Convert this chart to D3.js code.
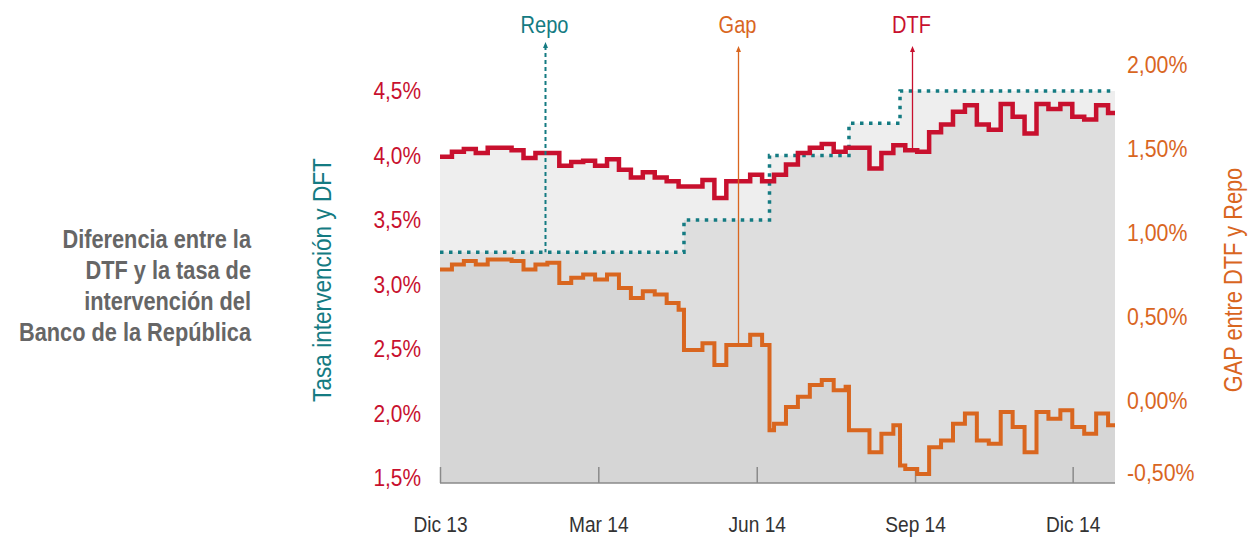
<!DOCTYPE html>
<html>
<head>
<meta charset="utf-8">
<script src="https://cdn.jsdelivr.net/npm/d3@7"></script>
<style>
  body { margin: 0; background: #fff; }
  svg text { font-family: 'Liberation Sans', Arial, sans-serif; }
</style>
</head>
<body>
<svg id="chart" width="1251" height="538"></svg>
<script>
// ---------------- DATA ----------------
// weekly DTF (left axis, %), week 0 = start of Dec 2013
const dtf = [3.99, 4.03, 4.05, 4.02, 4.06, 4.06, 4.04, 3.98, 4.02, 4.02,
             3.92, 3.95, 3.96, 3.92, 3.97, 3.89, 3.83, 3.87, 3.83, 3.80,
             3.76, 3.76, 3.81, 3.67, 3.80, 3.80, 3.85, 3.80, 3.85, 3.93,
             4.02, 4.06, 4.09, 4.03, 4.06, 4.06, 3.90, 4.02, 4.08, 4.04,
             4.03, 4.18, 4.24, 4.34, 4.39, 4.24, 4.20, 4.40, 4.30, 4.17,
             4.40, 4.36, 4.40, 4.30, 4.28, 4.39, 4.33];
const lastWeek = 56.58;               // end of the series (partial week)

// repo rate (left axis, %): week where each rate starts
const repoWeek = [0, 20.45, 27.62, 34.28, 38.56];
const repoRate = [3.25, 3.50, 4.00, 4.25, 4.50];

// gap DTF - repo (right axis, %)
const gapWeek = [0, 1, 2, 3, 4, 5, 6, 7, 8, 9, 10, 11, 12, 13, 14, 15, 16, 17, 18, 19, 20, 20.45,
                 21, 22, 23, 24, 25, 26, 27, 27.62, 28, 29, 30, 31, 32, 33, 34, 34.28,
                 35, 36, 37, 38, 38.56, 39, 40, 41, 42, 43, 44, 45, 46, 47, 48, 49, 50,
                 51, 52, 53, 54, 55, 56];
const gapValue = [0.78, 0.81, 0.83, 0.81, 0.84, 0.84, 0.83, 0.78, 0.81, 0.82, 0.70, 0.73, 0.75, 0.72, 0.75, 0.67, 0.61, 0.65, 0.63, 0.58, 0.54, 0.30,
                  0.30, 0.34, 0.21, 0.33, 0.33, 0.39, 0.33, -0.18, -0.14, -0.04, 0.02, 0.09, 0.12, 0.06, 0.08, -0.18,
                  -0.18, -0.31, -0.20, -0.15, -0.39, -0.41, -0.44, -0.28, -0.24, -0.14, -0.08, -0.24, -0.26, -0.07, -0.16, -0.31, -0.07,
                  -0.11, -0.06, -0.16, -0.20, -0.08, -0.15];

const leftTicks = [1.5, 2.0, 2.5, 3.0, 3.5, 4.0, 4.5];
const rightTicks = [-0.5, 0.0, 0.5, 1.0, 1.5, 2.0];
const monthWeek = [0, 13.27, 26.55, 39.82, 53.03];
const monthLabel = ["Dic 13", "Mar 14", "Jun 14", "Sep 14", "Dic 14"];

const titleLines = ["Diferencia entre la", "DTF y la tasa de", "intervención del", "Banco de la República"];
const leftTitle = "Tasa intervención y DFT";
const rightTitle = "GAP entre DTF y Repo";
const calloutName = ["Repo", "Gap", "DTF"];
const calloutWeek = [8.8, 25, 39.55];

// ---------------- STYLE / LAYOUT ----------------
const C_RED = "#c8102e", C_ORANGE = "#d9661f", C_TEAL = "#147b82", C_GRAY_TXT = "#666666";
const plotLeft = 440, plotRight = 1115, plotBottom = 483;
const SX = 0.87;   // horizontal condensing of the text

const svg = d3.select("#chart");
const loc = d3.formatLocale({decimal: ",", thousands: ".", grouping: [3], currency: ["$", ""], minus: "-"});
const fmtL = v => loc.format(".1f")(v) + "%";
const fmtR = v => loc.format(".2f")(v) + "%";

const x = d3.scaleLinear().domain([0, lastWeek]).range([plotLeft, plotRight]);
const yL = d3.scaleLinear().domain([1.5, 4.5]).range([478, 91]);
const yR = d3.scaleLinear().domain([-0.5, 2.0]).range([484, 65]);

const withEnd = pts => pts.concat([[lastWeek, pts[pts.length - 1][1]]]);
const dtfPts = withEnd(dtf.map((v, i) => [i, v]));
const repoPts = withEnd(repoWeek.map((w, i) => [w, repoRate[i]]));
const gapPts = withEnd(gapWeek.map((w, i) => [w, gapValue[i]]));

const areaL = d3.area().curve(d3.curveStepAfter).x(d => x(d[0])).y0(plotBottom).y1(d => yL(d[1]));
const areaR = d3.area().curve(d3.curveStepAfter).x(d => x(d[0])).y0(plotBottom).y1(d => yR(d[1]));
const lineL = d3.line().curve(d3.curveStepAfter).x(d => x(d[0])).y(d => yL(d[1]));
const lineR = d3.line().curve(d3.curveStepAfter).x(d => x(d[0])).y(d => yR(d[1]));

function addText(parent, tx, ty, str, size, color, opts = {}) {
  const t = parent.append("text")
    .attr("transform", `translate(${tx},${ty})${opts.rotate ? " rotate(" + opts.rotate + ")" : ""} scale(${SX},1)`)
    .attr("font-size", size).attr("fill", color).attr("text-anchor", opts.anchor || "start").text(str);
  if (opts.bold) t.attr("font-weight", "bold");
  return t;
}

// areas (semi-transparent, overlapping)
svg.append("path").attr("d", areaL(repoPts)).attr("fill", "#000").attr("fill-opacity", 0.065);
svg.append("path").attr("d", areaL(dtfPts)).attr("fill", "#000").attr("fill-opacity", 0.065);
svg.append("path").attr("d", areaR(gapPts)).attr("fill", "#000").attr("fill-opacity", 0.035);

// x axis
const xAxis = d3.axisBottom(x).tickValues(monthWeek).tickFormat((d, i) => monthLabel[i]).tickSize(-16).tickPadding(33);
const gx = svg.append("g").attr("transform", `translate(0,${plotBottom})`).call(xAxis);
gx.select(".domain").attr("stroke", "#8a8a8a").attr("stroke-width", 1.5).attr("d", `M${plotLeft},0H${plotRight}`);
gx.selectAll(".tick line").attr("stroke", "#8a8a8a").attr("stroke-width", 1.5);
gx.selectAll(".tick text").attr("fill", "#333").attr("font-size", 22).attr("transform", `scale(${SX},1)`);

// left axis
const gl = svg.append("g").attr("transform", `translate(${plotLeft - 19},0)`)
  .call(d3.axisLeft(yL).tickValues(leftTicks).tickFormat(fmtL).tickSize(0).tickPadding(0));
gl.select(".domain").remove();
gl.selectAll(".tick text").attr("fill", C_RED).attr("font-size", 24).attr("transform", `scale(${SX},1)`);

// right axis
const gr = svg.append("g").attr("transform", `translate(${plotRight + 12},0)`)
  .call(d3.axisRight(yR).tickValues(rightTicks).tickFormat(fmtR).tickSize(0).tickPadding(0));
gr.select(".domain").remove();
gr.selectAll(".tick text").attr("fill", C_ORANGE).attr("font-size", 24.5).attr("transform", `scale(${SX},1)`)
  .attr("dy", d => d === -0.5 ? "-0.15em" : "0.32em");

// lines
svg.append("path").attr("d", lineL(repoPts)).attr("fill", "none").attr("stroke", C_TEAL)
  .attr("stroke-width", 3.5).attr("stroke-dasharray", "3.5,5.5");
svg.append("path").attr("d", lineR(gapPts)).attr("fill", "none").attr("stroke", C_ORANGE)
  .attr("stroke-width", 4).attr("stroke-linejoin", "miter");
svg.append("path").attr("d", lineL(dtfPts)).attr("fill", "none").attr("stroke", C_RED)
  .attr("stroke-width", 4.5).attr("stroke-linejoin", "miter");

// callouts
const valueAt = (pts, w) => { let v = pts[0][1]; for (const p of pts) if (p[0] <= w) v = p[1]; return v; };
const calloutTarget = [yL(valueAt(repoPts, calloutWeek[0])), yR(valueAt(gapPts, calloutWeek[1])), yL(valueAt(dtfPts, calloutWeek[2]))];
const calloutColor = [C_TEAL, C_ORANGE, C_RED];
calloutName.forEach((name, i) => {
  const cx = Math.round(x(calloutWeek[i])) + 0.5;
  const top = i === 0 ? 46 : 50;
  const ln = svg.append("line").attr("x1", cx).attr("x2", cx).attr("y1", top).attr("y2", calloutTarget[i])
    .attr("stroke", calloutColor[i]).attr("stroke-width", i === 0 ? 2 : 1.3);
  if (i === 0) ln.attr("stroke-dasharray", "4,3");
  svg.append("path").attr("d", `M${cx},${top - 4}L${cx - 2.5},${top + 2}L${cx + 2.5},${top + 2}Z`).attr("fill", calloutColor[i]);
  addText(svg, cx - 1, 33, name, 23, calloutColor[i], {anchor: "middle"});
});

// axis titles
addText(svg, 331, 280, leftTitle, 26, C_TEAL, {anchor: "middle", rotate: -90});
addText(svg, 1242, 280, rightTitle, 25, C_ORANGE, {anchor: "middle", rotate: -90});

// side title
titleLines.forEach((line, i) => addText(svg, 251, 248 + i * 31, line, 25, C_GRAY_TXT, {anchor: "end", bold: true}));
</script>
</body>
</html>
